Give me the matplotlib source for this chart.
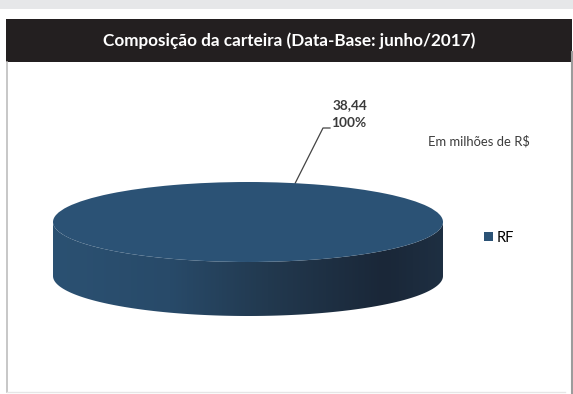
import numpy as np
import matplotlib
matplotlib.use("Agg")
import matplotlib.pyplot as plt
from matplotlib.patches import Rectangle, PathPatch
from matplotlib.path import Path
from matplotlib.colors import LinearSegmentedColormap

# Portfolio composition (R$ millions)
categories = ["RF"]
values = [38.44]
title = "Composição da carteira (Data-Base: junho/2017)"
unit_note = "Em milhões de R$"

W, H = 573, 394
fig = plt.figure(figsize=(W / 100, H / 100), dpi=100)
fig.patch.set_facecolor("white")

# Frame layer in pixel coordinates
fx = fig.add_axes([0, 0, 1, 1])
fx.set_xlim(0, W)
fx.set_ylim(H, 0)
fx.axis("off")
fx.add_patch(Rectangle((0, 0), W, 8.5, color="#e6e7e9", lw=0))
fx.add_patch(Rectangle((6, 19), 566, 43, color="#231f20", lw=0))
fx.plot([7, 7], [62, 392], color="#bdbdbd", lw=1.2)
fx.plot([571.5, 571.5], [52, 394], color="#9c9c9c", lw=1.5)
fx.plot([7, 565], [392, 392], color="#e6e6e6", lw=1)
fx.text(289, 41, title, color="white", fontsize=12.3, fontweight="bold",
        family="Lato", ha="center", va="center")
fx.text(479, 141, unit_note, color="#3c3c3c", fontsize=9.4,
        family="Lato", ha="center", va="center")

# Pie layer: one x unit = a px, one y unit = b px -> tilted disc
cx, cy, a, b, depth = 248, 222, 195, 40, 54
d = depth / b
top_color = "#2b5275"
pax = fig.add_axes([0, 0, 1, 1])

wedges, _ = pax.pie(values, colors=[top_color], radius=1, startangle=90,
                    wedgeprops=dict(linewidth=0))
for w in wedges:
    w.set_zorder(3)

# Cylinder side with horizontal shading
t = np.linspace(np.pi, 2 * np.pi, 200)
top_arc = np.column_stack([np.cos(t), np.sin(t)])
bot_arc = np.column_stack([np.cos(t[::-1]), np.sin(t[::-1]) - d])
verts = np.vstack([top_arc, bot_arc, top_arc[:1]])
codes = [Path.MOVETO] + [Path.LINETO] * (len(verts) - 2) + [Path.CLOSEPOLY]
side = PathPatch(Path(verts, codes), facecolor="none", edgecolor="none")
pax.add_patch(side)
side_cmap = LinearSegmentedColormap.from_list(
    "side", [(0.0, "#2b5172"), (0.3, "#284a69"), (0.55, "#22394f"),
             (0.85, "#1a2738"), (1.0, "#1e2f42")])
grad = np.linspace(0, 1, 256)[None, :]
img = pax.imshow(grad, extent=(-1, 1, -1 - d, 0), aspect="auto",
                 cmap=side_cmap, zorder=2)
img.set_clip_path(side)

pax.set_xlim(-cx / a, (W - cx) / a)
pax.set_ylim((cy - H) / b, cy / b)
pax.set_aspect("auto")
pax.axis("off")

# Data label with leader line
total = sum(values)
val_txt = f"{values[0]:.2f}".replace(".", ",")
pct_txt = f"{values[0] / total * 100:.0f}%"
ang = np.deg2rad(76)
ax0 = cx + a * np.cos(ang)
ay0 = cy - b * np.sin(ang)
fx.plot([ax0, 323, 330], [ay0, 128, 128], color="#444444", lw=0.9, zorder=5)
fx.text(350, 105, val_txt, color="#3a3a3a", fontsize=9.8, fontweight="bold",
        family="Lato", ha="center", va="center")
fx.text(349, 123, pct_txt, color="#3a3a3a", fontsize=9.8, fontweight="bold",
        family="Lato", ha="center", va="center")

# Legend
pax.legend(wedges, categories, loc="center left",
           bbox_to_anchor=(484 / W, 1 - 238 / H), bbox_transform=fig.transFigure,
           frameon=False, handlelength=0.6, handleheight=0.6,
           handletextpad=0.3, borderpad=0, borderaxespad=0,
           prop=dict(family="Lato", size=10.5))

fig.savefig("out.png", dpi=100)
